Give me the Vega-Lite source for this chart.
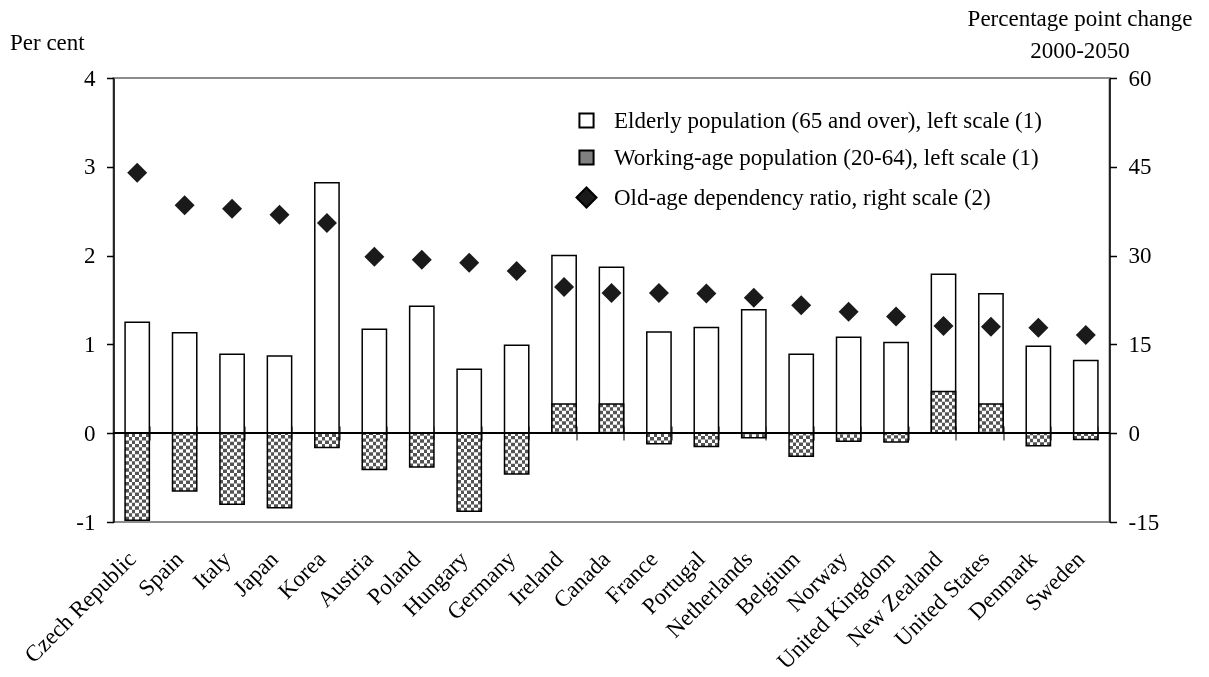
{
  "$schema": "https://vega.github.io/schema/vega-lite/v6.json",
  "width": 996,
  "height": 444,
  "autosize": {"type": "none"},
  "padding": {"left": 113.5, "top": 78, "right": 99.5, "bottom": 155},
  "background": "white",
  "config": {
    "font": "Liberation Serif",
    "view": {"stroke": "#8c8c8c", "strokeWidth": 2},
    "axis": {
      "labelFont": "Liberation Serif",
      "labelFontSize": 23,
      "labelColor": "#000000",
      "titleFont": "Liberation Serif",
      "titleFontSize": 23,
      "titleFontWeight": "normal",
      "titleColor": "#000000",
      "grid": false,
      "domainColor": "#000000",
      "tickColor": "#000000"
    },
    "legend": {
      "orient": "none",
      "legendX": 461.5,
      "legendY": 31,
      "padding": 0,
      "labelFont": "Liberation Serif",
      "labelFontSize": 23,
      "labelColor": "#000000",
      "labelLimit": 0,
      "labelOffset": 16,
      "rowPadding": 13,
      "symbolStrokeColor": "#000000",
      "symbolStrokeWidth": 2,
      "symbolOpacity": 1
    }
  },
  "data": {
    "values": [
      {"country": "Czech Republic", "elderly": 1.25, "working": -0.98, "ratio": 44.0},
      {"country": "Spain", "elderly": 1.13, "working": -0.65, "ratio": 38.5},
      {"country": "Italy", "elderly": 0.89, "working": -0.8, "ratio": 37.9},
      {"country": "Japan", "elderly": 0.87, "working": -0.84, "ratio": 36.9},
      {"country": "Korea", "elderly": 2.82, "working": -0.16, "ratio": 35.5},
      {"country": "Austria", "elderly": 1.17, "working": -0.41, "ratio": 29.8},
      {"country": "Poland", "elderly": 1.43, "working": -0.38, "ratio": 29.3},
      {"country": "Hungary", "elderly": 0.72, "working": -0.88, "ratio": 28.8},
      {"country": "Germany", "elderly": 0.99, "working": -0.46, "ratio": 27.4},
      {"country": "Ireland", "elderly": 2.0, "working": 0.33, "ratio": 24.7},
      {"country": "Canada", "elderly": 1.87, "working": 0.33, "ratio": 23.7},
      {"country": "France", "elderly": 1.14, "working": -0.12, "ratio": 23.7},
      {"country": "Portugal", "elderly": 1.19, "working": -0.15, "ratio": 23.6},
      {"country": "Netherlands", "elderly": 1.39, "working": -0.05, "ratio": 22.9},
      {"country": "Belgium", "elderly": 0.89, "working": -0.26, "ratio": 21.6},
      {"country": "Norway", "elderly": 1.08, "working": -0.09, "ratio": 20.5},
      {"country": "United Kingdom", "elderly": 1.02, "working": -0.1, "ratio": 19.7},
      {"country": "New Zealand", "elderly": 1.79, "working": 0.47, "ratio": 18.1},
      {"country": "United States", "elderly": 1.57, "working": 0.33, "ratio": 18.0},
      {"country": "Denmark", "elderly": 0.98, "working": -0.14, "ratio": 17.8},
      {"country": "Sweden", "elderly": 0.82, "working": -0.07, "ratio": 16.6}
    ]
  },
  "resolve": {"scale": {"y": "independent"}},
  "encoding": {
    "x": {
      "field": "country",
      "type": "nominal",
      "sort": null,
      "scale": {"paddingInner": 0.488, "paddingOuter": 0.244},
      "axis": null
    }
  },
  "layer": [
    {
      "resolve": {"axis": {"x": "independent"}},
      "layer": [
        {
          "description": "Elderly population bars (left scale), white with black outline",
          "mark": {"type": "bar", "stroke": "#000000", "strokeWidth": 1.5},
          "encoding": {
            "x": {
              "field": "country",
              "type": "nominal",
              "sort": null,
              "scale": {"paddingInner": 0.488, "paddingOuter": 0.244},
              "axis": {
                "orient": "bottom",
                "title": null,
                "domain": false,
                "ticks": false,
                "tickSize": 0,
                "labelAngle": -45,
                "labelAlign": "right",
                "labelBaseline": "alphabetic",
                "labelPadding": 38,
                "labelLimit": 0,
                "labelOverlap": false,
                "labelBound": false,
                "labelFlush": false
              }
            },
            "y": {
              "field": "elderly",
              "type": "quantitative",
              "scale": {"domain": [-1, 4], "nice": false, "zero": false},
              "axis": {
                "orient": "left",
                "values": [-1, 0, 1, 2, 3, 4],
                "labelExpr": "'' + datum.value",
                "tickSize": 7,
                "tickWidth": 1.5,
                "domainWidth": 1.5,
                "labelPadding": 11.5,
                "title": "Per cent",
                "titleAngle": 0,
                "titleAlign": "left",
                "titleBaseline": "alphabetic",
                "titleX": -104,
                "titleY": -29
              }
            },
            "fill": {
              "datum": "Elderly population (65 and over), left scale (1)",
              "title": null,
              "scale": {
                "domain": [
                  "Elderly population (65 and over), left scale (1)",
                  "Working-age population (20-64), left scale (1)",
                  "Old-age dependency ratio, right scale (2)"
                ],
                "range": ["#ffffff", "#808080", "#1a1a1a"]
              },
              "legend": {
                "encode": {
                  "symbols": {
                    "update": {
                      "stroke": {"value": "#000000"},
                      "strokeWidth": {"value": 2},
                      "strokeOpacity": {"value": 1}
                    }
                  }
                }
              }
            }
          }
        },
        {
          "description": "Working-age bars: vertical stripe base of the checker fill",
          "mark": {
            "type": "bar",
            "strokeWidth": 0,
            "fill": {
              "gradient": "linear",
              "x1": 0, "y1": 0, "x2": 1, "y2": 0,
              "stops": [
                {"offset": 0, "color": "#ffffff"},
                {"offset": 0.1429, "color": "#ffffff"},
                {"offset": 0.1429, "color": "#000000"},
                {"offset": 0.2857, "color": "#000000"},
                {"offset": 0.2857, "color": "#ffffff"},
                {"offset": 0.4286, "color": "#ffffff"},
                {"offset": 0.4286, "color": "#000000"},
                {"offset": 0.5714, "color": "#000000"},
                {"offset": 0.5714, "color": "#ffffff"},
                {"offset": 0.7143, "color": "#ffffff"},
                {"offset": 0.7143, "color": "#000000"},
                {"offset": 0.8571, "color": "#000000"},
                {"offset": 0.8571, "color": "#ffffff"},
                {"offset": 1, "color": "#ffffff"}
              ]
            }
          },
          "encoding": {
            "y": {"field": "working", "type": "quantitative"}
          }
        },
        {
          "description": "Dashed wide rule inverting alternate rows to form the checker",
          "mark": {
            "type": "rule",
            "color": "#ffffff",
            "strokeWidth": 24.28,
            "strokeDash": [3.47, 3.47],
            "strokeCap": "butt",
            "blend": "difference"
          },
          "encoding": {
            "y": {"field": "working", "type": "quantitative"},
            "y2": {"datum": 0}
          }
        },
        {
          "description": "Working-age bars: lighten dark cells and draw the outline; carries the zero-line tick axis",
          "mark": {
            "type": "bar",
            "fill": "#ffffff",
            "fillOpacity": 0.33,
            "stroke": "#000000",
            "strokeWidth": 1.5
          },
          "encoding": {
            "x": {
              "field": "country",
              "type": "nominal",
              "sort": null,
              "scale": {"paddingInner": 0.488, "paddingOuter": 0.244},
              "axis": {
                "orient": "bottom",
                "offset": -96,
                "title": null,
                "domain": false,
                "labels": false,
                "ticks": true,
                "tickSize": 14,
                "tickWidth": 1,
                "tickBand": "extent"
              }
            },
            "y": {"field": "working", "type": "quantitative"}
          }
        },
        {
          "description": "Zero line",
          "mark": {"type": "rule", "color": "#000000", "strokeWidth": 1},
          "encoding": {
            "x": {"value": 0},
            "x2": {"value": 996},
            "y": {"datum": 0, "type": "quantitative"}
          }
        }
      ]
    },
    {
      "description": "Old-age dependency ratio diamonds (right scale)",
      "mark": {"type": "point", "filled": true, "opacity": 1},
      "encoding": {
        "y": {
          "field": "ratio",
          "type": "quantitative",
          "scale": {"domain": [-15, 60], "nice": false, "zero": false},
          "axis": {
            "orient": "right",
            "values": [-15, 0, 15, 30, 45, 60],
            "labelExpr": "'' + datum.value",
            "tickSize": 7,
            "tickWidth": 1.5,
            "domainWidth": 1.5,
            "labelPadding": 11.5,
            "title": ["Percentage point change", "2000-2050"],
            "titleAngle": 0,
            "titleAlign": "center",
            "titleBaseline": "alphabetic",
            "titleLineHeight": 32,
            "titleX": -30,
            "titleY": -53
          }
        },
        "fill": {
          "datum": "Old-age dependency ratio, right scale (2)",
          "title": null,
          "scale": {
            "domain": [
              "Elderly population (65 and over), left scale (1)",
              "Working-age population (20-64), left scale (1)",
              "Old-age dependency ratio, right scale (2)"
            ],
            "range": ["#ffffff", "#808080", "#1a1a1a"]
          },
          "legend": {
            "encode": {
              "symbols": {
                "update": {
                  "stroke": {"value": "#000000"},
                  "strokeWidth": {"value": 2},
                  "strokeOpacity": {"value": 1}
                }
              }
            }
          }
        },
        "shape": {
          "datum": "Old-age dependency ratio, right scale (2)",
          "title": null,
          "scale": {
            "domain": [
              "Elderly population (65 and over), left scale (1)",
              "Working-age population (20-64), left scale (1)",
              "Old-age dependency ratio, right scale (2)"
            ],
            "range": ["square", "square", "diamond"]
          },
          "legend": {
            "encode": {
              "symbols": {
                "update": {
                  "stroke": {"value": "#000000"},
                  "strokeWidth": {"value": 2},
                  "strokeOpacity": {"value": 1}
                }
              }
            }
          }
        },
        "size": {
          "datum": "Old-age dependency ratio, right scale (2)",
          "title": null,
          "scale": {
            "type": "ordinal",
            "domain": [
              "Elderly population (65 and over), left scale (1)",
              "Working-age population (20-64), left scale (1)",
              "Old-age dependency ratio, right scale (2)"
            ],
            "range": [200, 200, 400]
          },
          "legend": {
            "encode": {
              "symbols": {
                "update": {
                  "stroke": {"value": "#000000"},
                  "strokeWidth": {"value": 2},
                  "strokeOpacity": {"value": 1}
                }
              }
            }
          }
        }
      }
    }
  ]
}
